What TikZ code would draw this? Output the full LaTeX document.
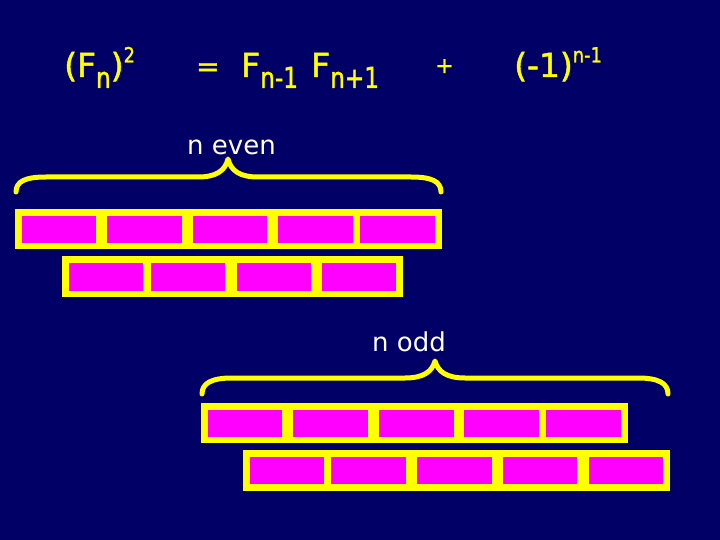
\documentclass[tikz,border=0pt]{standalone}
\usepackage{fontspec}
\setmainfont{DejaVu Sans}
\newfontfamily\eqfont[FakeBold=1.5]{DejaVu Sans}
\definecolor{bgnavy}{RGB}{0,0,102}
\definecolor{ylw}{RGB}{255,255,0}
\definecolor{mgt}{RGB}{255,0,255}
\newcommand{\mysub}[1]{\raisebox{-11pt}{\scalebox{0.8}[1]{\fontsize{29}{29}\selectfont #1}}}
\newcommand{\mysup}[1]{\raisebox{14.5pt}{\scalebox{0.85}[1]{\fontsize{21}{21}\selectfont #1}}}
\tikzset{
  eq/.style={anchor=base west, inner sep=0pt, text=ylw, font=\eqfont\fontsize{33}{33}\selectfont},
  lbl/.style={anchor=base west, inner sep=0pt, text=white, font=\fontsize{26}{26}\selectfont},
  bracepath/.style={draw=ylw, line width=5pt, line cap=round, line join=round},
  bar/.style={fill=ylw},
  cell/.style={fill=mgt}
}
\begin{document}
\begin{tikzpicture}[x=1pt,y=-1pt]
\fill[bgnavy] (0,0) rectangle (720,540);
\useasboundingbox (0,0) rectangle (720,540);

% equation
\node[eq] (lhs) at (64,77) {(F\mysub{n})\mysup{2}};
\node[eq, font=\eqfont\fontsize{28}{28}\selectfont] (eqs) at (196,76) {=};
\node[eq] (fa) at (241,77) {F\mysub{n-1}};
\node[eq] (fb) at (311,77) {F\mysub{n+1}};
\node[eq, font=\eqfont\fontsize{22}{22}\selectfont] (plus) at (435,73) {+};
\node[eq] (sgn) at (514,77) {(-1)\mysup{n-1}};

% labels
\node[lbl] (even) at (187,155) {n even};
\node[lbl] (odd) at (372,351) {n odd};

% top brace
\draw[bracepath] (16,192) .. controls (16,181) and (26,177) .. (46,177)
  -- (198,177) .. controls (216,177) and (225,171) .. (228,159)
  .. controls (231,171) and (240,177) .. (258,177)
  -- (411,177) .. controls (431,177) and (441,181) .. (441,192);

% bottom brace
\draw[bracepath] (202,394) .. controls (202,383) and (212,378) .. (232,378)
  -- (405,378) .. controls (423,378) and (432,372) .. (435,361)
  .. controls (438,372) and (447,378) .. (465,378)
  -- (638,378) .. controls (658,378) and (668,383) .. (668,394);

% top rows
\fill[bar] (15,209) rectangle (442,249);
\foreach \a/\b in {22/96,107/182,193/267,278/353,360/435}
  \fill[cell] (\a,216) rectangle (\b,243);
\fill[bar] (62,256) rectangle (403,297);
\foreach \a/\b in {69/143,151/225,237/311,322/396}
  \fill[cell] (\a,263) rectangle (\b,291);

% bottom rows
\fill[bar] (201,403) rectangle (628,443);
\foreach \a/\b in {208/282,293/368,379/454,464/539,546/621}
  \fill[cell] (\a,410) rectangle (\b,437);
\fill[bar] (243,450) rectangle (670,491);
\foreach \a/\b in {250/324,331/406,417/492,503/577,589/663}
  \fill[cell] (\a,457) rectangle (\b,484);
\end{tikzpicture}
\end{document}
